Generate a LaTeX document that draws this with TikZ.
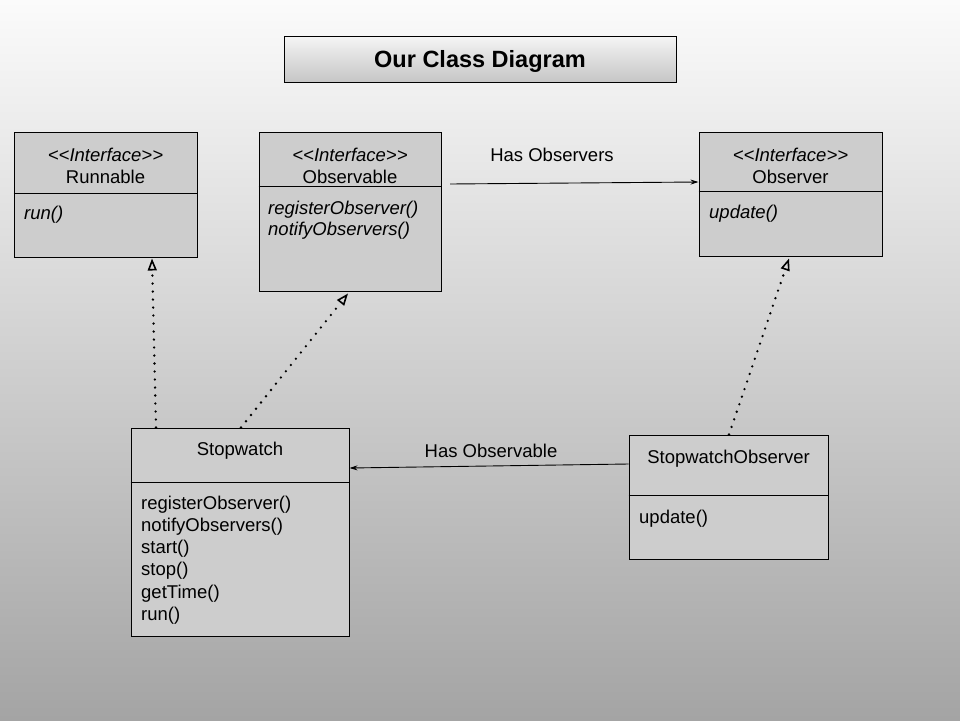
\documentclass[tikz,border=0pt]{standalone}
\usepackage{fontspec}
\setmainfont{Liberation Sans}
\usetikzlibrary{arrows.meta,positioning}
\definecolor{boxgray}{HTML}{CDCDCD}
\definecolor{bgtop}{HTML}{FBFBFB}
\definecolor{bgmid}{HTML}{DEDEDE}
\definecolor{bgbot}{HTML}{A4A4A4}
\newcommand{\stereo}[1]{\textit{<\kern0pt<#1>\kern0pt>}}

\begin{document}
\begin{tikzpicture}[x=1pt,y=-1pt]
\tikzstyle{every node}+=[inner sep=0pt]
\tikzstyle{classbox}=[draw=black, fill=boxgray, line width=1pt]
\tikzstyle{txt}=[font=\fontsize{18.5}{22}\selectfont]
\tikzstyle{meth}=[txt, anchor=west]
\tikzstyle{assoc}=[draw=black, line width=0.9pt, -{Stealth[length=8pt,width=5pt]}]
\tikzstyle{realize}=[draw=black, line width=2.6pt, line cap=round, dash pattern=on 0pt off 8pt,
  -{Triangle[open, length=12pt, width=9pt, line width=1.6pt, line cap=butt]}]
\useasboundingbox (0,0) rectangle (960,720);
\shade[top color=bgtop, middle color=bgmid, bottom color=bgbot] (0,0) rectangle (960,720);
% title
\node[draw=black, line width=1pt, top color=gray!8, bottom color=gray!45,
  minimum width=392pt, minimum height=46pt] (title) at (480,59) {};
\node[font=\fontsize{23.5}{28}\selectfont\bfseries] (titleT) at (480,61) {Our Class Diagram};
% Runnable
\node[classbox, minimum width=183pt, minimum height=125pt] (runnable) at (105.5,194.5) {};
\draw (runnable.west |- 0,193) -- (runnable.east |- 0,193);
\node[txt] (runnableS) at (105.5,155) {\stereo{Interface}};
\node[txt] (runnableN) at (105.5,177) {Runnable};
\node[meth] (runnableM) at (24,215) {\textit{run()}};
% Observable
\node[classbox, minimum width=182pt, minimum height=159pt] (observable) at (350,211.5) {};
\draw (observable.west |- 0,186) -- (observable.east |- 0,186);
\node[txt] (observableS) at (350,155) {\stereo{Interface}};
\node[txt] (observableN) at (350,177) {Observable};
\node[meth] (observableM1) at (268,210) {\textit{registerObserver()}};
\node[meth] (observableM2) at (268,231) {\textit{notifyObservers()}};
% Observer
\node[classbox, minimum width=183pt, minimum height=124pt] (observer) at (790.5,194) {};
\draw (observer.west |- 0,191) -- (observer.east |- 0,191);
\node[txt] (observerS) at (790.5,155) {\stereo{Interface}};
\node[txt] (observerN) at (790.5,177) {Observer};
\node[meth] (observerM) at (709,214) {\textit{update()}};
% Stopwatch
\node[classbox, minimum width=218pt, minimum height=208pt] (stopwatch) at (240,532) {};
\draw (stopwatch.west |- 0,482) -- (stopwatch.east |- 0,482);
\node[txt] (stopwatchN) at (240,451) {Stopwatch};
\node[meth] (swM1) at (141,505) {registerObserver()};
\node[meth] (swM2) at (141,527) {notifyObservers()};
\node[meth] (swM3) at (141,549) {start()};
\node[meth] (swM4) at (141,571) {stop()};
\node[meth] (swM5) at (141,594) {getTime()};
\node[meth] (swM6) at (141,616) {run()};
% StopwatchObserver
\node[classbox, minimum width=199pt, minimum height=124pt] (swobserver) at (728.5,497) {};
\draw (swobserver.west |- 0,495) -- (swobserver.east |- 0,495);
\node[txt] (swobserverN) at (728.5,459) {StopwatchObserver};
\node[meth] (swobserverM) at (639,519) {update()};
% associations
\coordinate (hasObsStart) at (450,184);
\draw[assoc] (hasObsStart) -- ([yshift=12pt]observer.west);
\node[txt] (hasObsLabel) at (552,155) {Has Observers};
\draw[assoc] ([yshift=33pt]swobserver.west) -- ([yshift=64pt]stopwatch.east);
\node[txt] (hasObsvLabel) at (491,451) {Has Observable};
% realizations
\draw[realize] ([xshift=-84pt]stopwatch.north) -- ([xshift=46.5pt, yshift=-1pt]runnable.south);
\draw[realize] ([xshift=1pt]stopwatch.north) -- ([xshift=-2pt, yshift=-2pt]observable.south);
\draw[realize] ([xshift=0.5pt]swobserver.north) -- ([xshift=-1.5pt, yshift=-2pt]observer.south);
\end{tikzpicture}
\end{document}
